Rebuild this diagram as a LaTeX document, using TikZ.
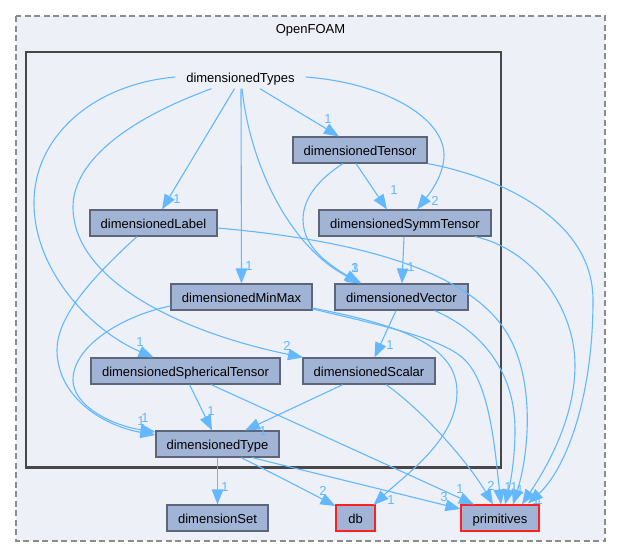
\documentclass[tikz,border=0pt]{standalone}
\usepackage{fontspec}
\setmainfont{Liberation Sans}
\usetikzlibrary{arrows.meta}
\definecolor{depblue}{HTML}{63B8FF}
\definecolor{dirfill}{HTML}{A2B4D6}
\definecolor{dirline}{HTML}{5C6678}
\definecolor{dirred}{HTML}{FF2020}
\definecolor{panelfill}{HTML}{EDF0F7}
\tikzset{
  dirbox/.style={draw=dirline,fill=dirfill,line width=1.1pt,minimum height=26pt,inner sep=0pt,text=black,text height=13pt,text depth=3pt,font=\fontsize{13}{16}\selectfont},
  extbox/.style={dirbox,draw=dirred},
  dep/.style={draw=depblue,line width=1.1pt,-{Triangle[length=15pt,width=11.5pt]}},
  countlabel/.style={text=depblue,inner sep=0pt,font=\fontsize{13}{16}\selectfont},
}
\begin{document}
\begin{tikzpicture}[x=1pt,y=-1pt]
    \useasboundingbox (0,0) rectangle (621,557);
    % Draw the two folders
    \draw [black!45,fill=panelfill,line width=1.1pt,dash pattern=on 6pt off 3.5pt] (16,16) rectangle (605,541);
    \draw [draw=black!72,line width=2.4pt] (26,52) rectangle (501,467.5);
    \node [font=\fontsize{13}{16}\selectfont,inner sep=0pt] (openfoam) at (310.5,30) {OpenFOAM};

    % Draw the directories
    \node [inner sep=0pt,minimum width=130pt,minimum height=23pt,text height=13pt,text depth=3pt,font=\fontsize{13}{16}\selectfont] (dimTypes) at (240.5,77) {dimensionedTypes};
    \node [dirbox,minimum width=134pt] (dimTensor) at (360,150) {dimensionedTensor};
    \node [dirbox,minimum width=127pt] (dimLabel) at (153.5,223) {dimensionedLabel};
    \node [dirbox,minimum width=172pt] (dimSymm) at (405,223) {dimensionedSymmTensor};
    \node [dirbox,minimum width=141pt] (dimMinMax) at (241.5,297) {dimensionedMinMax};
    \node [dirbox,minimum width=133pt] (dimVector) at (401.5,297) {dimensionedVector};
    \node [dirbox,minimum width=189pt] (dimSpherical) at (185.5,371) {dimensionedSphericalTensor};
    \node [dirbox,minimum width=132pt] (dimScalar) at (369,371) {dimensionedScalar};
    \node [dirbox,minimum width=123pt] (dimType) at (217.5,444) {dimensionedType};
    \node [dirbox,minimum width=101pt] (dimSet) at (217.5,518) {dimensionSet};
    \node [extbox,minimum width=39pt] (db) at (355.5,518) {db};
    \node [extbox,minimum width=78pt] (primitives) at (500,518) {primitives};

    % Draw the dependencies out of dimensionedTypes
    \draw [dep] ([xshift=-6pt]dimTypes.south) -- ([xshift=8.5pt]dimLabel.north);
    \draw [dep] ([xshift=.5pt]dimTypes.south) -- (dimMinMax.north);
    \draw [dep] ([xshift=19.5pt]dimTypes.south) -- ([xshift=-21pt]dimTensor.north);
    \draw [dep] (dimTypes.east) .. controls (385,83) and (444,118) .. (444,155) .. controls (444,175) and (430,193) .. ([xshift=12pt]dimSymm.north);
    \draw [dep] ([xshift=1.5pt]dimTypes.south) .. controls (250,165) and (290,248) .. ([xshift=-40pt]dimVector.north);
    \draw [dep] ([xshift=-29pt]dimTypes.south) .. controls (120,122) and (73,165) .. (73,207) .. controls (73,280) and (180,332) .. ([xshift=-66pt]dimScalar.north);
    \draw [dep] (dimTypes.west) .. controls (95,84) and (34,135) .. (34,203) .. controls (34,270) and (90,330) .. ([xshift=-32pt]dimSpherical.north);

    % Draw the dependencies between the inner directories
    \draw [dep] ([xshift=-17pt]dimTensor.south) .. controls (310,185) and (303,205) .. (303,220) .. controls (303,250) and (335,268) .. ([xshift=-42pt]dimVector.north);
    \draw [dep] ([xshift=-4pt]dimTensor.south) -- ([xshift=-18pt]dimSymm.north);
    \draw [dep] ([xshift=-1pt]dimSymm.south) -- ([xshift=.5pt]dimVector.north);
    \draw [dep] ([xshift=-5.5pt]dimVector.south) -- ([xshift=5.5pt]dimScalar.north);
    \draw [dep] ([xshift=-16.5pt]dimLabel.south) .. controls (95,275) and (57,315) .. (57,350) .. controls (57,395) and (100,425) .. ([yshift=9pt]dimType.west);
    \draw [dep] ([yshift=-9pt]dimMinMax.west) .. controls (125,315) and (73,345) .. (73,380) .. controls (73,405) and (110,425) .. ([yshift=12pt]dimType.west);
    \draw [dep] ([xshift=4pt]dimSpherical.south) -- ([xshift=-5.5pt]dimType.north);
    \draw [dep] ([xshift=-26pt]dimScalar.south) -- ([xshift=27.5pt]dimType.north);

    % Draw the dependencies out of dimensionedType
    \draw [dep] (dimType.south) -- (dimSet.north);
    \draw [dep] ([xshift=23.5pt]dimType.south) .. controls (270,472) and (305,490) .. ([yshift=12pt]db.west);
    \draw [dep] ([xshift=34.5pt]dimType.south) .. controls (310,472) and (400,494) .. ([yshift=9pt]primitives.west);

    % Draw the dependencies into db and primitives
    \draw [dep] ([yshift=-11pt]dimMinMax.east) .. controls (400,325) and (457,345) .. (457,392) .. controls (457,440) and (405,475) .. ([yshift=13pt,xshift=-2pt]db.east);
    \draw [dep] ([xshift=25.5pt]dimSpherical.south) -- ([xshift=-26pt]primitives.north);
    \draw [dep] ([xshift=17pt]dimScalar.south) .. controls (425,412) and (470,465) .. ([xshift=-7pt]primitives.north);
    \draw [dep] ([yshift=-12pt]dimMinMax.east) .. controls (390,327) and (445,340) .. (465,360) .. controls (490,385) and (495,450) .. ([xshift=1pt]primitives.north);
    \draw [dep] ([xshift=33pt]dimVector.south) .. controls (480,330) and (515,370) .. (515,430) .. controls (515,460) and (510,485) .. ([xshift=5pt]primitives.north);
    \draw [dep] ([yshift=-5pt]dimLabel.east) .. controls (330,238) and (460,262) .. (505,330) .. controls (535,375) and (530,450) .. ([xshift=13pt]primitives.north);
    \draw [dep] ([xshift=70pt]dimSymm.south) .. controls (535,250) and (575,310) .. (575,365) .. controls (575,420) and (545,470) .. ([xshift=22pt]primitives.north);
    \draw [dep] (dimTensor.south east) .. controls (490,175) and (593,215) .. (593,300) .. controls (593,400) and (565,470) .. ([xshift=28pt,yshift=1pt]primitives.north);

    % Draw the counts
    \foreach \px/\py/\num [count=\i] in {
      177/199/1, 249/266/1, 328/119/1, 435/201/2, 394/190/1, 355/268/1, 355/268/3,
      287/346/2, 140/342/1, 141/421/1, 145/418/1, 211/411/1, 263/431/1, 411/267/1,
      390/345/1, 225/487/1, 323/491/2, 391/500/1, 444/497/3, 460/489/1, 491/486/2,
      508/487/1, 514/487/1, 520/490/1, 536/500/1, 539/500/1}
      \node [countlabel] (count\i) at (\px,\py) {\num};
\end{tikzpicture}
\end{document}
